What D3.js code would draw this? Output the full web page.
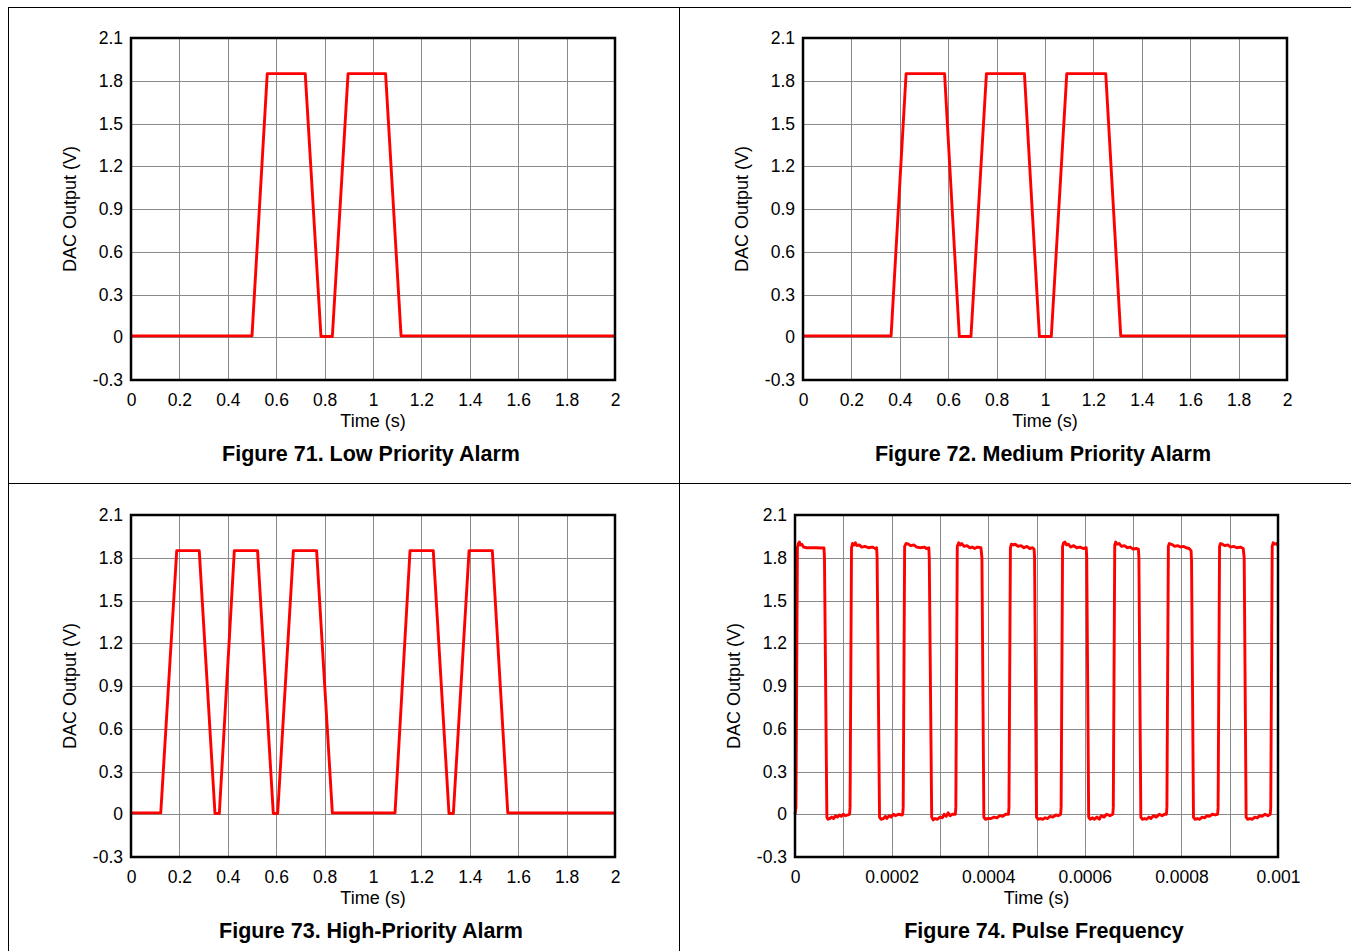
<!DOCTYPE html>
<html>
<head>
<meta charset="utf-8">
<script src="https://cdn.jsdelivr.net/npm/d3@7"></script>
<style>
    html, body { margin: 0; padding: 0; background: #ffffff; }
    svg { display: block; font-family: "Liberation Sans", Arial, sans-serif; }
</style>
</head>
<body>
<svg id="chart" width="1351" height="951"></svg>
<script>
// Axis ticks shared by the alarm plots
const voltTicks = [-0.3, 0, 0.3, 0.6, 0.9, 1.2, 1.5, 1.8, 2.1];
const voltLabels = ['-0.3', '0', '0.3', '0.6', '0.9', '1.2', '1.5', '1.8', '2.1'];
const timeTicks = [0, 0.2, 0.4, 0.6, 0.8, 1, 1.2, 1.4, 1.6, 1.8, 2];
const timeLabels = ['0', '0.2', '0.4', '0.6', '0.8', '1', '1.2', '1.4', '1.6', '1.8', '2'];

// Pulse frequency plot uses microseconds internally
const pulseGrid = [0, 100, 200, 300, 400, 500, 600, 700, 800, 900, 1000];
const pulseTicks = [0, 200, 400, 600, 800, 1000];
const pulseLabels = ['0', '0.0002', '0.0004', '0.0006', '0.0008', '0.001'];

// [time (s), DAC output (V)]
const lowAlarm = [
    [0, 0.01], [0.50, 0.01], [0.563, 1.85], [0.72, 1.85], [0.785, 0.005], [0.832, 0.005],
    [0.897, 1.85], [1.052, 1.85], [1.116, 0.01], [2.0, 0.01]
];

const mediumAlarm = [
    [0, 0.01], [0.364, 0.01], [0.426, 1.85], [0.585, 1.85], [0.646, 0.005], [0.694, 0.005],
    [0.758, 1.85], [0.915, 1.85], [0.977, 0.005], [1.026, 0.005], [1.09, 1.85], [1.251, 1.85],
    [1.313, 0.01], [2.0, 0.01]
];

const highAlarm = [
    [0, 0.01], [0.123, 0.01], [0.189, 1.85], [0.282, 1.85], [0.347, 0.005], [0.365, 0.005],
    [0.427, 1.85], [0.523, 1.85], [0.588, 0.005], [0.606, 0.005], [0.671, 1.85], [0.767, 1.85],
    [0.832, 0.01], [1.091, 0.01], [1.153, 1.85], [1.249, 1.85], [1.314, 0.005], [1.332, 0.005],
    [1.397, 1.85], [1.493, 1.85], [1.557, 0.01], [2.0, 0.01]
];

// [time (us), DAC output (V)]
const pulseWave = [
    [0, 0.0], [1, 0.02], [2, 0.05], [5, 1.87], [7, 1.90], [9, 1.91], [11, 1.89], [14, 1.895], [18, 1.875],
    [24, 1.87], [40, 1.87], [60, 1.868], [61, 1.80], [66, -0.02], [68, -0.035], [72, -0.03], [76, -0.02],
    [80, -0.03], [84, -0.01], [88, -0.02], [92, -0.005], [96, -0.015], [100, 0.0], [104, -0.01], [110, -0.005],
    [113, 0.0],
    [114, 0.05], [117, 1.87], [119, 1.90], [122, 1.89], [125, 1.905], [128, 1.885], [133, 1.89], [138, 1.875],
    [145, 1.88], [152, 1.87], [160, 1.875], [166, 1.865], [169, 1.87], [170, 1.80], [175, -0.02], [178, -0.035],
    [183, -0.03], [187, -0.015], [190, -0.03], [195, -0.01], [199, -0.02], [204, 0.0], [208, -0.01], [214, 0.0],
    [222, -0.005], [223, 0.0],
    [224, 0.05], [227, 1.88], [230, 1.90], [235, 1.895], [240, 1.885], [246, 1.89], [252, 1.875], [260, 1.87],
    [268, 1.875], [272, 1.865], [277, 1.87], [278, 1.80], [283, -0.02], [286, -0.04], [290, -0.03], [295, -0.035],
    [300, -0.02], [305, -0.025], [309, 0.0], [313, -0.015], [317, 0.01], [321, -0.01], [326, 0.0], [332, 0.0],
    [333, 0.05], [336, 1.88], [339, 1.905], [342, 1.89], [345, 1.90], [350, 1.88], [356, 1.885], [362, 1.87],
    [367, 1.875], [372, 1.865], [378, 1.875], [385, 1.87], [387, 1.80], [391, -0.02], [394, -0.035], [400, -0.03],
    [406, -0.03], [412, -0.02], [418, -0.025], [424, -0.01], [430, -0.015], [436, 0.0], [442, 0.0],
    [443, 0.05], [446, 1.87], [448, 1.895], [452, 1.89], [456, 1.895], [462, 1.88], [468, 1.885], [474, 1.87],
    [480, 1.88], [486, 1.865], [492, 1.87], [495, 1.86], [496, 1.80], [500, -0.02], [503, -0.035], [508, -0.03],
    [513, -0.035], [518, -0.025], [523, -0.03], [528, -0.015], [534, -0.02], [540, -0.005], [545, -0.01], [550, 0.0],
    [551, 0.05], [554, 1.88], [556, 1.905], [559, 1.91], [562, 1.89], [566, 1.895], [571, 1.875], [577, 1.885],
    [583, 1.87], [590, 1.875], [597, 1.865], [603, 1.87], [604, 1.80], [608, -0.02], [611, -0.035], [616, -0.025],
    [620, -0.035], [625, -0.02], [630, -0.035], [634, -0.01], [640, -0.02], [645, 0.0], [652, -0.01], [658, 0.0],
    [659, 0.05], [662, 1.89], [664, 1.91], [667, 1.895], [671, 1.90], [676, 1.88], [682, 1.885], [688, 1.87],
    [694, 1.875], [700, 1.86], [706, 1.865], [711, 1.86], [712, 1.80], [716, -0.02], [719, -0.035], [724, -0.03],
    [728, -0.035], [733, -0.02], [737, -0.03], [742, -0.01], [748, -0.02], [754, 0.0], [760, -0.01], [765, 0.0],
    [769, 0.0],
    [770, 0.05], [773, 1.88], [775, 1.90], [778, 1.895], [782, 1.89], [786, 1.88], [792, 1.885], [798, 1.875],
    [804, 1.88], [810, 1.87], [816, 1.865], [820, 1.85], [821, 1.78], [825, -0.02], [828, -0.035], [833, -0.03],
    [838, -0.035], [843, -0.02], [848, -0.025], [853, -0.01], [858, -0.015], [864, 0.0], [870, -0.005], [875, 0.0],
    [876, 0.05], [879, 1.88], [881, 1.90], [885, 1.895], [890, 1.885], [896, 1.89], [902, 1.875], [908, 1.88],
    [915, 1.87], [922, 1.875], [928, 1.865], [930, 1.80], [934, -0.02], [937, -0.035], [942, -0.03], [947, -0.035],
    [952, -0.02], [957, -0.025], [962, -0.01], [967, -0.015], [973, 0.0], [979, -0.01], [984, 0.0],
    [985, 0.05], [988, 1.88], [990, 1.905], [993, 1.895], [997, 1.90], [1000, 1.885]
];

const svg = d3.select('#chart');

// Page frame around the four figures
const frame = svg.append('g').attr('stroke', '#000').attr('stroke-width', 1);
frame.append('line').attr('x1', 8).attr('x2', 1351).attr('y1', 7.5).attr('y2', 7.5);
frame.append('line').attr('x1', 8.5).attr('x2', 8.5).attr('y1', 7).attr('y2', 951);
frame.append('line').attr('x1', 679.5).attr('x2', 679.5).attr('y1', 7).attr('y2', 951);
frame.append('line').attr('x1', 8).attr('x2', 1351).attr('y1', 483.5).attr('y2', 483.5);

/**
 * Draw one oscilloscope-style panel
 */
function drawPanel(opts) {
    const { left, top, width, height, data, xDomain, xGrid, xTicks, xLabels, title, titleX } = opts;
    const g = svg.append('g').attr('transform', `translate(${left}, ${top})`);

    const x = d3.scaleLinear().domain(xDomain).range([0, width]);
    const y = d3.scaleLinear().domain([-0.3, 2.1]).range([height, 0]);

    // Grid
    g.append('g')
        .selectAll('line')
        .data(xGrid)
        .enter()
        .append('line')
        .attr('x1', d => Math.round(x(d)) + 0.5)
        .attr('x2', d => Math.round(x(d)) + 0.5)
        .attr('y1', 0)
        .attr('y2', height)
        .attr('stroke', '#8a8a8a')
        .attr('stroke-width', 1);

    g.append('g')
        .selectAll('line')
        .data(voltTicks)
        .enter()
        .append('line')
        .attr('x1', 0)
        .attr('x2', width)
        .attr('y1', d => Math.round(y(d)) + 0.5)
        .attr('y2', d => Math.round(y(d)) + 0.5)
        .attr('stroke', '#8a8a8a')
        .attr('stroke-width', 1);

    // Trace
    const line = d3.line()
        .x(d => x(d[0]))
        .y(d => y(d[1]));

    g.append('path')
        .datum(data)
        .attr('d', line)
        .attr('fill', 'none')
        .attr('stroke', '#ff0000')
        .attr('stroke-width', 2.9)
        .attr('stroke-linejoin', 'round');

    // Plot border
    g.append('rect')
        .attr('x', 0)
        .attr('y', 0)
        .attr('width', width)
        .attr('height', height)
        .attr('fill', 'none')
        .attr('stroke', '#000')
        .attr('stroke-width', 2.5);

    // Y tick labels
    const yAxis = d3.axisLeft(y)
        .tickValues(voltTicks)
        .tickFormat((d, i) => voltLabels[i])
        .tickSize(0)
        .tickPadding(8);

    g.append('g')
        .call(yAxis)
        .call(a => a.select('.domain').remove())
        .selectAll('text')
        .attr('font-family', '"Liberation Sans", Arial, sans-serif')
        .attr('font-size', '17.5px')
        .attr('fill', '#000');

    // X tick labels
    const xAxis = d3.axisBottom(x)
        .tickValues(xTicks)
        .tickFormat((d, i) => xLabels[i])
        .tickSize(0)
        .tickPadding(14);

    g.append('g')
        .attr('transform', `translate(0, ${height})`)
        .call(xAxis)
        .call(a => a.select('.domain').remove())
        .selectAll('text')
        .attr('font-family', '"Liberation Sans", Arial, sans-serif')
        .attr('font-size', '17.5px')
        .attr('fill', '#000');

    // Axis titles
    g.append('text')
        .attr('x', width / 2)
        .attr('y', height + 41)
        .attr('dy', '0.35em')
        .attr('text-anchor', 'middle')
        .attr('font-size', '18px')
        .text('Time (s)');

    g.append('text')
        .attr('transform', `translate(-61, ${height / 2}) rotate(-90)`)
        .attr('dy', '0.35em')
        .attr('text-anchor', 'middle')
        .attr('font-size', '18px')
        .text('DAC Output (V)');

    // Figure caption
    svg.append('text')
        .attr('x', titleX)
        .attr('y', top + height + 73)
        .attr('dy', '0.35em')
        .attr('text-anchor', 'middle')
        .attr('font-size', '21.5px')
        .attr('font-weight', 'bold')
        .text(title);
}

drawPanel({
    left: 131, top: 38, width: 484, height: 342, data: lowAlarm,
    xDomain: [0, 2], xGrid: timeTicks, xTicks: timeTicks, xLabels: timeLabels,
    title: 'Figure 71. Low Priority Alarm', titleX: 371
});

drawPanel({
    left: 803, top: 38, width: 484, height: 342, data: mediumAlarm,
    xDomain: [0, 2], xGrid: timeTicks, xTicks: timeTicks, xLabels: timeLabels,
    title: 'Figure 72. Medium Priority Alarm', titleX: 1043
});

drawPanel({
    left: 131, top: 515, width: 484, height: 342, data: highAlarm,
    xDomain: [0, 2], xGrid: timeTicks, xTicks: timeTicks, xLabels: timeLabels,
    title: 'Figure 73. High-Priority Alarm', titleX: 371
});

drawPanel({
    left: 795, top: 515, width: 483, height: 342, data: pulseWave,
    xDomain: [0, 1000], xGrid: pulseGrid, xTicks: pulseTicks, xLabels: pulseLabels,
    title: 'Figure 74. Pulse Frequency', titleX: 1044
});
</script>
</body>
</html>
